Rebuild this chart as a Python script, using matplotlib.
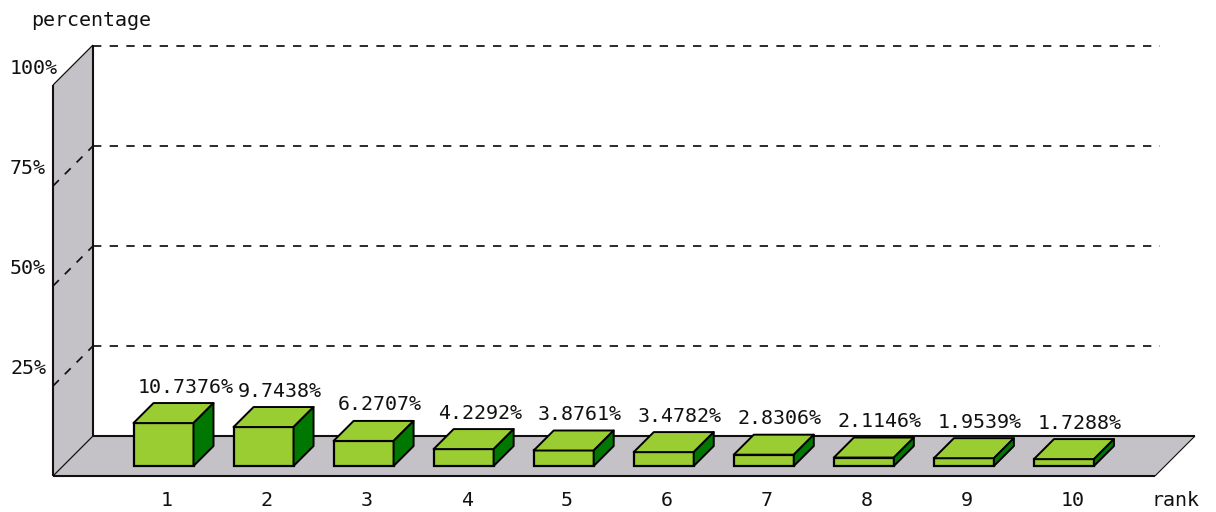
import matplotlib
matplotlib.use("Agg")
import matplotlib.pyplot as plt
from matplotlib.patches import Polygon

ranks = [1, 2, 3, 4, 5, 6, 7, 8, 9, 10]
values = [10.7376, 9.7438, 6.2707, 4.2292, 3.8761, 3.4782, 2.8306, 2.1146, 1.9539, 1.7288]
grid_levels = [25, 50, 75, 100]
y_label = "percentage"
x_label = "rank"

W, H = 1216, 512
PX = 100.05         # pixels per rank
PY = 4.0            # pixels per percent
X0 = 163.5          # pixel of rank 1, front of the bars
Y0 = 466.0          # pixel of 0 %, front of the bars
WIDTH = 60 / PX
BD_X, BD_Y = 20 / PX, 20 / PY       # bar depth
FD_X, FD_Y = 40 / PX, 40 / PY       # floor depth
FONT = "DejaVu Sans Mono"
FS = 14.4
INK = "#111111"
WALL = "#c4c2c6"
FACE = "#9acd32"
SIDE = "#007700"
LW = 1.25

plt.rcParams["lines.scale_dashes"] = False
fig = plt.figure(figsize=(W / 100, H / 100), dpi=100)
ax = fig.add_axes([0, 0, 1, 1])
ax.set_xlim(1 - X0 / PX, 1 + (W - X0) / PX)
ax.set_ylim((Y0 - H) / PY, Y0 / PY)
ax.axis("off")


def ux(px):
    return 1 + (px - X0) / PX


def uy(px):
    return (Y0 - px) / PY


front_y = uy(476)
wall_x = ux(53)
top_front = uy(85)
floor_right = ux(1155)
grid_end = ux(1160)
shift = uy(486)     # 0 % on the wall's front edge
label_drop = uy(469) - uy(486)

ax.add_patch(Polygon([(wall_x, front_y), (wall_x + FD_X, front_y + FD_Y),
                      (wall_x + FD_X, top_front + FD_Y), (wall_x, top_front)],
                     fc=WALL, ec="none", zorder=1))
ax.add_patch(Polygon([(wall_x, front_y), (floor_right, front_y),
                      (floor_right + FD_X, front_y + FD_Y), (wall_x + FD_X, front_y + FD_Y)],
                     fc=WALL, ec="none", zorder=1))

for lev in grid_levels:
    yf = shift + lev
    yb = yf + FD_Y
    ax.plot([wall_x + FD_X, grid_end], [yb, yb], color=INK, lw=LW,
            linestyle=(0, (6, 6)), dash_capstyle="butt", zorder=2)
    if lev < 100:
        ax.plot([wall_x, wall_x + FD_X], [yf, yb], color=INK, lw=LW,
                linestyle=(0, (6, 6)), dash_capstyle="butt", zorder=2)
    ax.text(ux(10), yf + label_drop, f"{lev}%", family=FONT, fontsize=FS,
            color=INK, ha="left", va="center", zorder=5)

edge = dict(color=INK, solid_capstyle="butt", zorder=3)
ax.plot([wall_x, wall_x], [front_y, top_front], lw=1.5, **edge)
ax.plot([wall_x + FD_X, wall_x + FD_X], [front_y + FD_Y, top_front + FD_Y], lw=1.5, **edge)
ax.plot([wall_x, wall_x + FD_X], [top_front, top_front + FD_Y], lw=0.9, **edge)
ax.plot([wall_x, wall_x + FD_X], [front_y, front_y + FD_Y], lw=0.9, **edge)
ax.plot([wall_x, floor_right], [front_y, front_y], lw=1.5, **edge)
ax.plot([wall_x + FD_X, floor_right + FD_X], [front_y + FD_Y, front_y + FD_Y], lw=1.5, **edge)
ax.plot([floor_right, floor_right + FD_X], [front_y, front_y + FD_Y], lw=0.8, **edge)

ax.bar(ranks, values, width=WIDTH, color=FACE, edgecolor="black", linewidth=1.6, zorder=4)
for r, v in zip(ranks, values):
    l, rr = r - WIDTH / 2, r + WIDTH / 2
    ax.add_patch(Polygon([(l, v), (rr, v), (rr + BD_X, v + BD_Y), (l + BD_X, v + BD_Y)],
                         fc=FACE, ec="black", lw=1.4, joinstyle="round", zorder=4))
    ax.add_patch(Polygon([(rr, 0), (rr + BD_X, BD_Y), (rr + BD_X, v + BD_Y), (rr, v)],
                         fc=SIDE, ec="black", lw=1.4, joinstyle="round", zorder=4))
    ax.text(l + 4 / PX, v + BD_Y + 16 / PY, f"{v:.4f}%", family=FONT, fontsize=FS,
            color=INK, ha="left", va="center", zorder=5)
    ax.text(l + 27 / PX, uy(501), str(r), family=FONT, fontsize=FS, color=INK,
            ha="left", va="center", zorder=5)

ax.text(ux(31), uy(20), y_label, family=FONT, fontsize=FS, color=INK,
        ha="left", va="center", zorder=5)
ax.text(ux(1151), uy(501), x_label, family=FONT, fontsize=FS, color=INK,
        ha="left", va="center", zorder=5)

fig.savefig("out.png", dpi=100)
